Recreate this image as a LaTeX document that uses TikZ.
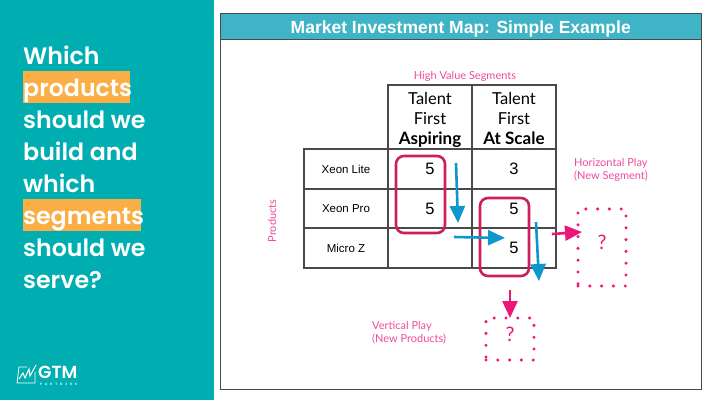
\documentclass[tikz,border=0pt]{standalone}
\usepackage{fontspec}
\usepackage{xcolor}
\setmainfont{Lato}
\newfontfamily\headfont{Poppins SemiBold}[BoldFont={Poppins Bold}]
\newfontfamily\helvfont{Liberation Sans}
\definecolor{panelteal}{HTML}{00ADB1}
\definecolor{bannerteal}{HTML}{3FB4C6}
\definecolor{hiorange}{HTML}{FBAE45}
\definecolor{labelpink}{HTML}{EE4C9E}
\definecolor{playpink}{HTML}{EC1678}
\definecolor{boxred}{HTML}{CC1F5B}
\definecolor{arrowblue}{HTML}{0E97CB}
\definecolor{gridgray}{HTML}{4A4A4A}
\usetikzlibrary{arrows.meta}
\tikzset{
  headline/.style={anchor=base west, inner sep=0pt, text=white, font=\headfont\fontsize{23.7}{24}\selectfont},
  hilite/.style={headline, fill=hiorange, text height=25pt, text depth=7pt},
  cell/.style={draw=gridgray, line width=1.1pt, inner sep=0pt, minimum width=84pt, align=center},
  segcell/.style={cell, minimum height=64pt},
  segtext/.style={inner sep=0pt, yshift=-3pt, align=center, font=\fontsize{16.5}{20}\selectfont},
  rowcell/.style={cell, font=\helvfont\fontsize{11.5}{13}\selectfont},
  numcell/.style={rowcell, font=\helvfont\fontsize{16.5}{18}\selectfont},
  pinklabel/.style={text=labelpink, inner sep=0pt, font=\fontsize{11}{13}\selectfont, align=left},
  redbox/.style={draw=boxred, line width=2.6pt, rounded corners=8pt, outer sep=0pt},
  playbox/.style={draw=playpink, line width=3.4pt, outer sep=0pt, line cap=round, dash pattern=on 0pt off 11.8pt, text=playpink, text depth=10pt, font=\fontsize{20}{20}\selectfont},
  bluearrow/.style={arrowblue, line width=2.6pt, -{Triangle[length=17pt,width=15pt]}},
  pinkarrow/.style={playpink, line width=2.6pt, -{Triangle[length=17pt,width=15pt]}},
}
\begin{document}
\begin{tikzpicture}[x=1pt,y=-1pt]
  \useasboundingbox (0,0) rectangle (711,400);
  \fill[white] (0,0) rectangle (711,400);
  \fill[panelteal] (0,0) rectangle (214,400);

  % left panel
  \node[headline] (which) at (23,64) {Which};
  \node[hilite] (products) at (23,96) {\makebox[107pt][l]{products}};
  \node[headline] at (23,128) {should we};
  \node[headline] at (23,160) {build and};
  \node[headline] at (23,192) {which};
  \node[hilite] (segments) at (23,224) {\makebox[118pt][l]{segments}};
  \node[headline] at (23,256) {should we};
  \node[headline] at (23,288) {serve?};

  % logo
  \draw[white, line width=0.8pt] (27,367) -- (19,367) -- (17,383) -- (35,383) -- (35,372);
  \draw[white, line width=1pt] (19,379) -- (23,373) -- (25,378) -- (29,369) -- (30,376) -- (36,365);
  \node[anchor=base west, inner sep=0pt, text=white, font=\headfont\fontsize{17.5}{17.5}\selectfont] (logo) at (38,378) {GTM};
  \node[anchor=base west, inner sep=0pt, text=white, font=\headfont\fontsize{3.2}{3.2}\selectfont] (partners) at (40,385.5) {\makebox[37pt][s]{P\hss A\hss R\hss T\hss N\hss E\hss R\hss S}};

  % frame and banner
  \draw[gridgray, line width=1pt] (220.5,13) rectangle (701,389);
  \node[draw=gridgray, line width=1pt, fill=bannerteal, anchor=north west, inner sep=0pt, outer sep=0pt,
        minimum width=480.5pt, minimum height=26pt, text=white, text height=14pt, text depth=0pt,
        font=\helvfont\bfseries\fontsize{17.5}{17.5}\selectfont] (banner) at (220.5,13) {Market Investment Map: Simple Example};

  % table
  \node[segcell] (aspiring) at (430,117) {};
  \node[segcell] (scale) at (514,117) {};
  \node[segtext] at (aspiring) {Talent\\First\\{\fontsize{17}{20}\selectfont\textbf{Aspiring}}};
  \node[segtext] at (scale) {Talent\\First\\{\fontsize{17}{20}\selectfont\textbf{At Scale\vphantom{g}}}};
  \node[rowcell, minimum height=40pt] (lite) at (346,169) {Xeon Lite};
  \node[rowcell, minimum height=39.5pt] (pro) at (346,208.5) {Xeon Pro};
  \node[rowcell, minimum height=40pt] (micro) at (346,248) {Micro Z};
  \node[numcell, minimum height=40pt] (c11) at (430,169) {5};
  \node[numcell, minimum height=40pt] (c12) at (514,169) {3};
  \node[numcell, minimum height=39.5pt] (c21) at (430,208.5) {5};
  \node[numcell, minimum height=39.5pt] (c22) at (514,208.5) {5};
  \node[numcell, minimum height=40pt] (c31) at (430,248) {};
  \node[numcell, minimum height=40pt] (c32) at (514,248) {5};

  % pink labels
  \node[pinklabel] (high) at (465,76) {High Value Segments};
  \node[pinklabel, rotate=90] (prod) at (272,221) {Products};
  \node[pinklabel, anchor=north west] (hplay) at (574,158) {Horizontal Play\\(New Segment)};
  \node[pinklabel, anchor=north west] (vplay) at (372,321) {Vertical Play\\(New Products)};

  % highlighted cells
  \node[redbox, anchor=north west, minimum width=49pt, minimum height=77pt] (leftbox) at (396,156) {};
  \node[redbox, anchor=north west, minimum width=49pt, minimum height=78pt] (rightbox) at (480,198) {};

  % open plays
  \node[playbox, anchor=north west, minimum width=48pt, minimum height=77pt] (hbox) at (578,209) {?};
  \node[playbox, anchor=north west, minimum width=48pt, minimum height=42pt] (vbox) at (486,318) {?};

  % arrows
  \coordinate (b1s) at (456,163);
  \coordinate (b1e) at (458,223);
  \coordinate (b2s) at (454,237);
  \coordinate (b2e) at (505,238);
  \coordinate (b3s) at (536,222);
  \coordinate (b3e) at (539,281);
  \coordinate (p1s) at (552,234);
  \coordinate (p1e) at (582,232);
  \coordinate (p2s) at (510,290);
  \draw[bluearrow] (b1s) -- (b1e);
  \draw[bluearrow] (b2s) -- (b2e);
  \draw[bluearrow] (b3s) -- (b3e);
  \draw[pinkarrow] (p1s) -- (p1e);
  \draw[pinkarrow] (p2s) -- (vbox.north);
\end{tikzpicture}
\end{document}
